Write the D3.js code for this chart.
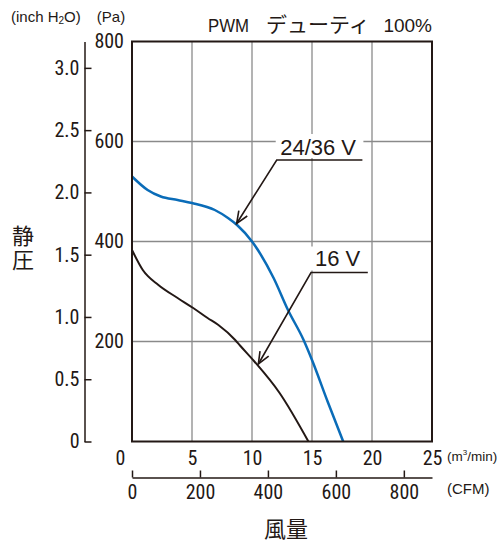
<!DOCTYPE html>
<html lang="ja">
<head>
<meta charset="utf-8">
<title>PWM duty 100% P-Q curve</title>
<script src="https://d3js.org/d3.v7.min.js"></script>
<style>
  body { margin: 0; background: #fff; }
  .num { font-family: "Liberation Sans Narrow", "Arial Narrow", "Roboto Condensed", sans-serif; font-size: 20px; fill: #231815; }
  .unit { font-family: "Liberation Sans Narrow", "Arial Narrow", sans-serif; font-size: 15px; fill: #231815; }
  .lbl { font-family: "Liberation Sans", "Noto Sans CJK JP", sans-serif; fill: #231815; }
  .jp { font-family: "Noto Sans CJK JP", sans-serif; font-size: 22px; fill: #231815; }
</style>
</head>
<body>
<script>
// flow in m3/min, static pressure in Pa
var flow24 = [0, 1.3, 2.4, 3.8, 5.0, 6.9, 8.0, 8.8, 10.0, 11.8, 13.0, 14.3, 15.0, 16.3, 17.6];
var pres24 = [530, 503, 490, 483, 477, 463, 447, 432, 400, 327, 263, 203, 163, 80, 0];
var flow16 = [0, 0.9, 2.2, 3.8, 5.1, 6.3, 7.2, 8.6, 9.0, 10.2, 12.3, 14.7];
var pres16 = [383, 343, 313, 287, 267, 247, 233, 203, 192, 160, 97, 0];

var flowTicks = [0, 5, 10, 15, 20, 25];
var paTicks = [200, 400, 600, 800];
var inchTicks = [0, 0.5, 1.0, 1.5, 2.0, 2.5, 3.0];
var cfmTicks = [0, 200, 400, 600, 800];

// annotation: label, text pos, elbow, underline end, arrow tip (m3/min, Pa)
var notes = [
  { name: "24/36 V", tx: 12.35, tp: 573, ex: 12.06, ep: 563, ux: 19.2, px: 8.72, pp: 436 },
  { name: "16 V", tx: 15.25, tp: 351, ex: 14.92, ep: 338, ux: 19.65, px: 10.53, pp: 155 }
];

var w = 501, h = 545;
var ink = "#231815";

var svg = d3.select("body").append("svg")
  .attr("width", w).attr("height", h);

var x = d3.scaleLinear().domain([0, 25]).range([132, 432]);
var y = d3.scaleLinear().domain([0, 800]).range([441.5, 41.5]);
var yIn = d3.scaleLinear().domain([0, 800 / 249.089]).range([441.5, 41.5]);
var xCfm = d3.scaleLinear().domain([0, 25 / 0.0283168]).range([132, 432]);

// grid
svg.append("g").selectAll("line")
  .data([5, 10, 15, 20]).enter().append("line")
  .attr("x1", function(d) { return x(d); }).attr("x2", function(d) { return x(d); })
  .attr("y1", y(800)).attr("y2", y(0))
  .attr("stroke", "#8a8a8a").attr("stroke-width", 1.3);
svg.append("g").selectAll("line")
  .data([200, 400, 600]).enter().append("line")
  .attr("y1", function(d) { return y(d); }).attr("y2", function(d) { return y(d); })
  .attr("x1", x(0)).attr("x2", x(25))
  .attr("stroke", "#8a8a8a").attr("stroke-width", 1.3);

// curves
var line = d3.line()
  .x(function(d) { return x(d[0]); })
  .y(function(d) { return y(d[1]); })
  .curve(d3.curveMonotoneX);

svg.append("path")
  .datum(d3.zip(flow24, pres24))
  .attr("d", line).attr("fill", "none")
  .attr("stroke", "#0a6cb8").attr("stroke-width", 2.5);
svg.append("path")
  .datum(d3.zip(flow16, pres16))
  .attr("d", line).attr("fill", "none")
  .attr("stroke", ink).attr("stroke-width", 2);

// frame
svg.append("rect")
  .attr("x", x(0)).attr("y", y(800))
  .attr("width", x(25) - x(0)).attr("height", y(0) - y(800))
  .attr("fill", "none").attr("stroke", ink).attr("stroke-width", 2);

// Pa labels
var paAxis = svg.append("g")
  .attr("transform", "translate(" + x(0) + ",0)")
  .call(d3.axisLeft(y).tickValues(paTicks).tickSize(0).tickPadding(8));
paAxis.select(".domain").remove();
paAxis.selectAll("text").attr("class", "num").attr("font-family", null).attr("font-size", null);

// inch H2O axis
var inAxis = svg.append("g")
  .attr("transform", "translate(84.5,0)")
  .call(d3.axisLeft(yIn).tickValues(inchTicks).tickSizeInner(-7).tickSizeOuter(0).tickPadding(5)
    .tickFormat(function(d) { return d === 0 ? "0" : d3.format(".1f")(d); }));
inAxis.selectAll("line, path").attr("stroke", ink).attr("stroke-width", 1.5);
inAxis.selectAll("text").attr("class", "num").attr("font-family", null).attr("font-size", null);

// m3/min labels
var flowAxis = svg.append("g")
  .attr("transform", "translate(0," + y(0) + ")")
  .call(d3.axisBottom(x).tickValues(flowTicks).tickSize(0).tickPadding(9));
flowAxis.select(".domain").remove();
flowAxis.selectAll("text").attr("class", "num").attr("font-family", null).attr("font-size", null)
  .attr("dx", function(d) { return d === 0 ? -12 : 0; });

// CFM axis
var cfmAxis = svg.append("g")
  .attr("transform", "translate(0,477.5)")
  .call(d3.axisBottom(xCfm).tickValues(cfmTicks).tickSizeInner(-7).tickSizeOuter(0).tickPadding(7));
cfmAxis.selectAll("line, path").attr("stroke", ink).attr("stroke-width", 1.5);
cfmAxis.selectAll("text").attr("class", "num").attr("font-family", null).attr("font-size", null);

// units
svg.append("text").attr("class", "unit").attr("x", 11).attr("y", 22).html("(inch H<tspan font-size='10' dy='2'>2</tspan><tspan dy='-2'>O)</tspan>");
svg.append("text").attr("class", "unit").attr("x", 111).attr("y", 22).attr("text-anchor", "middle").text("(Pa)");
svg.append("text").attr("class", "unit").style("font-size", "13.5px")
  .attr("x", 447).attr("y", 461).html("(m<tspan font-size='8' dy='-6'>3</tspan><tspan dy='6'>/min)</tspan>");
svg.append("text").attr("class", "unit").attr("x", 447).attr("y", 494).text("(CFM)");

// title
var title = svg.append("text").attr("class", "lbl")
  .attr("y", 32).attr("font-size", 19);
title.append("tspan").attr("x", 208).attr("textLength", 41).attr("lengthAdjust", "spacingAndGlyphs").text("PWM");
title.append("tspan").attr("x", 266).attr("font-family", "Noto Sans CJK JP").attr("font-size", 21).text("デューティ");
title.append("tspan").attr("x", 432).attr("text-anchor", "end").text("100%");

// axis titles
svg.append("text").attr("class", "jp")
  .attr("x", 23).attr("y", 225)
  .style("writing-mode", "vertical-rl").attr("letter-spacing", 2)
  .text("静圧");
svg.append("text").attr("class", "jp").attr("x", 286).attr("y", 537).attr("text-anchor", "middle").text("風量");

// annotations
svg.append("defs").append("marker")
  .attr("id", "arr").attr("markerUnits", "userSpaceOnUse")
  .attr("viewBox", "-13 -6 15 12").attr("refX", 0).attr("refY", 0)
  .attr("markerWidth", 15).attr("markerHeight", 12).attr("orient", "auto")
  .append("path").attr("d", "M-12,-5L0,0L-12,5")
  .attr("fill", "none").attr("stroke", ink).attr("stroke-width", 1.6);

var note = svg.append("g").selectAll("g").data(notes).enter().append("g");
note.append("rect")
  .attr("x", function(d) { return x(d.ex) - 1; })
  .attr("y", function(d) { return y(d.ep) - 26; })
  .attr("width", function(d) { return x(d.ux) - x(d.ex) + 2; })
  .attr("height", 24).attr("fill", "#fff");
note.append("text").attr("class", "lbl").attr("font-size", 22)
  .attr("x", function(d) { return x(d.tx); })
  .attr("y", function(d) { return y(d.tp); })
  .text(function(d) { return d.name; });
note.append("polyline")
  .attr("points", function(d) {
    return [[x(d.ux), y(d.ep)], [x(d.ex), y(d.ep)], [x(d.px), y(d.pp)]].join(" ");
  })
  .attr("fill", "none").attr("stroke", ink).attr("stroke-width", 1.6)
  .attr("marker-end", "url(#arr)");
</script>
</body>
</html>
